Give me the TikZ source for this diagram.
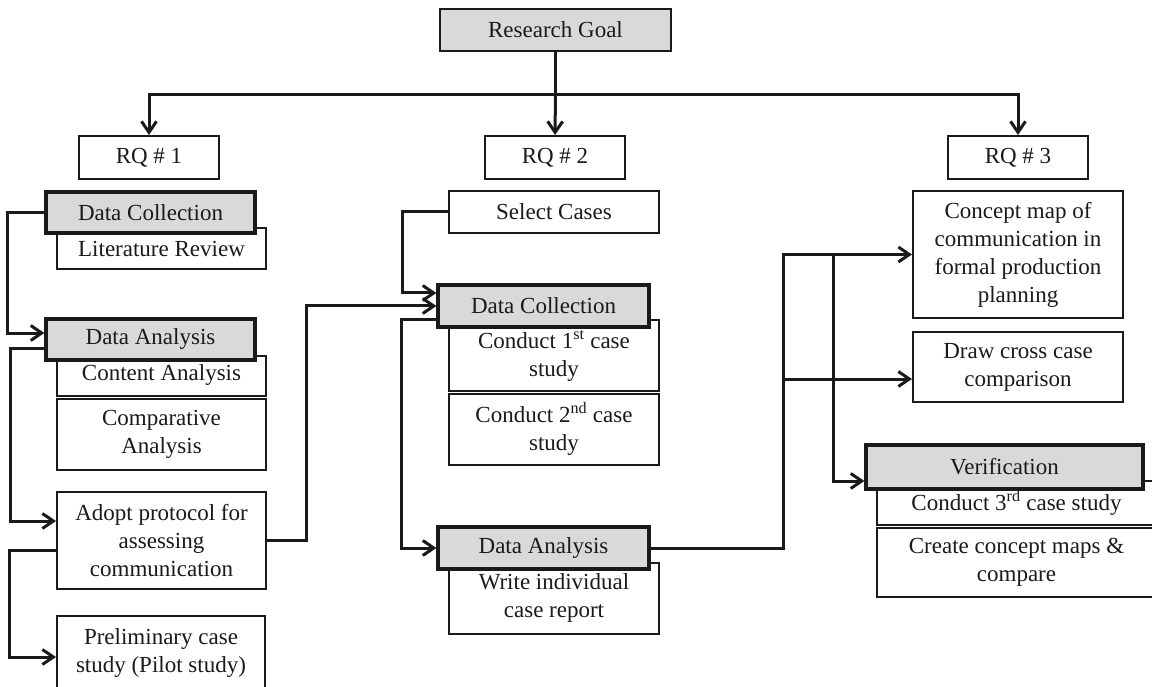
\documentclass[tikz,border=0pt]{standalone}
\usepackage{fontspec}
\setmainfont{Liberation Serif}
\usetikzlibrary{arrows.meta}
\definecolor{headfill}{HTML}{D9D9D9}
\definecolor{ink}{HTML}{1A1A1A}
\begin{document}
\begin{tikzpicture}[x=1pt,y=-1pt,
  box/.style={draw=ink, line width=2pt, fill=white, align=center, inner sep=0pt,
    text=ink, font=\fontsize{23}{28}\selectfont},
  headbox/.style={box, fill=headfill, line width=3.2pt},
  wire/.style={draw=ink, line width=3pt},
  link/.style={wire, -{Straight Barb[length=11pt,width=15pt]}}]
\useasboundingbox (0,0) rectangle (1152,687);
\clip (0,0) rectangle (1152,687);

% top level
\node[headbox, line width=2pt, minimum width=231, minimum height=42] (goal) at (555.5,30) {Research Goal};
\node[box, minimum width=140, minimum height=43] (rq1) at (149,157.5) {RQ \# 1};
\node[box, minimum width=140, minimum height=43] (rq2) at (555,157.5) {RQ \# 2};
\node[box, minimum width=140, minimum height=43] (rq3) at (1018,157.5) {RQ \# 3};

% RQ 1 column
\node[box, minimum width=209, minimum height=41] (lit) at (161.5,248.5) {Literature Review};
\node[box, minimum width=209, minimum height=40] (content) at (161.5,375.5) {Content Analysis};
\node[box, minimum width=209, minimum height=71] (comp) at (161.5,434) {Comparative\\Analysis};
\node[box, minimum width=209, minimum height=97] (adopt) at (161.5,540.5) {Adopt protocol for\\assessing\\communication};
\node[box, minimum width=208, minimum height=74] (prelim) at (161,653) {Preliminary case\\study (Pilot study)};
\node[headbox, minimum width=209, minimum height=41] (dc1) at (150.5,212.5) {Data Collection};
\node[headbox, minimum width=209, minimum height=41] (da1) at (150.5,339.5) {Data Analysis};

% RQ 2 column
\node[box, minimum width=210, minimum height=71] (c1) at (554,355.5) {Conduct 1\textsuperscript{st} case\\study};
\node[box, minimum width=210, minimum height=42] (sel) at (554,212) {Select Cases};
\node[box, minimum width=210, minimum height=71] (c2) at (554,429) {Conduct 2\textsuperscript{nd} case\\study};
\node[box, minimum width=210, minimum height=71] (write) at (554,598) {Write individual\\case report};
\node[headbox, minimum width=211, minimum height=42] (dc2) at (543.5,306) {Data Collection};
\node[headbox, minimum width=211, minimum height=42] (da2) at (543.5,548) {Data Analysis};

% RQ 3 column
\node[box, minimum width=210, minimum height=127] (cmap) at (1018,254.5) {Concept map of\\communication in\\formal production\\planning};
\node[box, minimum width=210, minimum height=70] (cross) at (1018,367) {Draw cross case\\comparison};
\node[box, minimum width=279, minimum height=44] (c3) at (1016.5,502.5) {Conduct 3\textsuperscript{rd} case study};
\node[box, minimum width=279, minimum height=69] (create) at (1016.5,562) {Create concept maps \&\\compare};
\node[headbox, minimum width=277, minimum height=44] (verif) at (1004.5,467) {Verification};

% goal to research questions
\coordinate (bus) at (555.5,95);
\draw[wire] (goal.south) -- (bus);
\draw[link] (bus) -| (rq1.north);
\draw[link] (bus) -- (rq2.north);
\draw[link] (bus) -| (rq3.north);

% RQ 1 flow
\draw[link] (dc1.west) -- ++(-37,0) |- ([yshift=6.5pt]da1.west);
\draw[link] ([yshift=-8.5pt]da1.west) -- ++(-34,0) |- ([yshift=19.5pt]adopt.west);
\draw[link] ([yshift=-9.5pt]adopt.west) -- ++(-47,0) |- ([yshift=-4pt]prelim.west);
\draw[link] (adopt.east) -- ++(39,0) |- (dc2.west);

% RQ 2 flow
\draw[link] (sel.west) -- ++(-46,0) |- ([yshift=13pt]dc2.west);
\draw[link] ([yshift=-13.5pt]dc2.west) -- ++(-35,0) |- (da2.west);
\draw[link] (da2.east) -- ++(133,0) |- (cmap.west);

% RQ 3 flow
\coordinate (j1) at (782,379);
\coordinate (j2) at (833,254.5);
\draw[link] (j1) -- (j1 -| cross.west);
\draw[link] (j2) |- ([yshift=-14pt]verif.west);
\end{tikzpicture}
\end{document}
